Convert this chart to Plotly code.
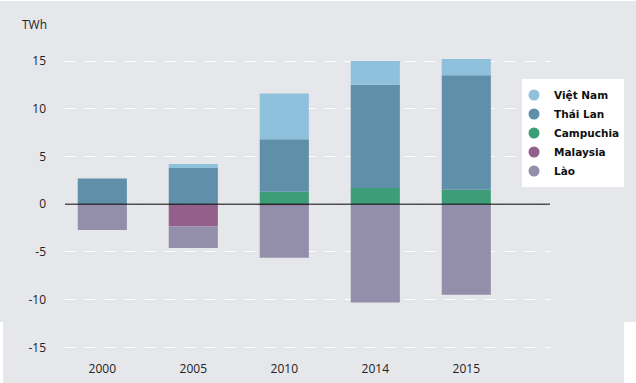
import plotly.graph_objects as go

years = ["2000", "2005", "2010", "2014", "2015"]
series_names = ["Campuchia", "Thái Lan", "Việt Nam", "Malaysia", "Lào"]
campuchia = [0.0, 0.0, 1.3, 1.7, 1.5]
thai_lan = [2.7, 3.8, 5.5, 10.8, 12.0]
viet_nam = [0.0, 0.4, 4.8, 2.5, 1.7]
malaysia = [0.0, -2.3, -0.1, 0.0, 0.0]
lao = [-2.7, -2.3, -5.5, -10.3, -9.5]
y_ticks = [-15, -10, -5, 0, 5, 10, 15]
y_tick_labels = ["-15", "-10", "-5", "0", "5", "10", "15"]

colors = {
    "Việt Nam": "#8fc1dc",
    "Thái Lan": "#5f8fa9",
    "Campuchia": "#3d9d78",
    "Malaysia": "#935f8b",
    "Lào": "#938eaa",
}
values = {
    "Campuchia": campuchia,
    "Thái Lan": thai_lan,
    "Việt Nam": viet_nam,
    "Malaysia": malaysia,
    "Lào": lao,
}
legend_order = ["Việt Nam", "Thái Lan", "Campuchia", "Malaysia", "Lào"]

BG = "#e6e7eb"
L, R, T, B = 65, 86, 40, 28
W, H = 636, 383
PW, PH = W - L - R, H - T - B


def px_x(px):
    return (px - L) / PW


def px_y(py):
    return (H - B - py) / PH


fig = go.Figure()
for name in series_names:
    fig.add_trace(go.Bar(x=years, y=values[name], name=name,
                         marker=dict(color=colors[name], line=dict(width=0)),
                         showlegend=False))
for i, name in enumerate(legend_order):
    fig.add_trace(go.Scatter(x=[None], y=[None], mode="markers", name=name,
                             marker=dict(color=colors[name], size=11, symbol="circle"),
                             legendgroup=f"g{i}", showlegend=True))

fig.add_shape(type="line", xref="paper", yref="y", x0=0, x1=1, y0=0, y1=0,
              line=dict(color="black", width=1), layer="above")

# white frame pieces
for x0, x1, y0, y1 in [(624, 640, 322, 390), (-5, 3, 322, 390), (-5, 640, -5, 1)]:
    fig.add_shape(type="rect", xref="paper", yref="paper",
                  x0=px_x(x0), x1=px_x(x1), y0=px_y(y1), y1=px_y(y0),
                  fillcolor="white", line=dict(width=0), layer="below")

# legend box
fig.add_shape(type="rect", xref="paper", yref="paper",
              x0=px_x(522), x1=px_x(624), y0=px_y(187), y1=px_y(79),
              fillcolor="white", line=dict(width=0), layer="above")

fig.add_annotation(text="TWh", xref="paper", yref="paper",
                   x=px_x(34), y=px_y(25), xanchor="center", yanchor="middle",
                   showarrow=False, font=dict(family="Open Sans", size=12, color="#222"))

fig.update_layout(
    width=W, height=H, autosize=False,
    margin=dict(l=L, r=R, t=T, b=B, autoexpand=False),
    paper_bgcolor=BG, plot_bgcolor=BG,
    barmode="relative", bargap=0.46,
    font=dict(family="Open Sans", size=12, color="#222"),
    legend=dict(x=px_x(514), y=px_y(80.5), xanchor="left", yanchor="top",
                bgcolor="rgba(0,0,0,0)", borderwidth=0, tracegroupgap=0,
                font=dict(family="DejaVu Sans", size=10.5, color="#111", weight="bold"),
                itemwidth=30),
    xaxis=dict(type="category", range=[-0.41, 4.92], showgrid=False, zeroline=False,
               showline=False, ticks="", ticklabelstandoff=5, automargin=False),
    yaxis=dict(range=[-15.8, 17.2], tickvals=y_ticks, ticktext=y_tick_labels,
               showgrid=True, gridcolor="white", automargin=False,
               gridwidth=1, griddash="10px,10px", zeroline=False, showline=False,
               ticks="", ticklabelstandoff=18),
)

post = """
document.documentElement.style.margin='0';
document.body.style.margin='0';
document.body.style.overflow='hidden';
var d = document.querySelector('.plotly-graph-div');
d.style.position='fixed'; d.style.top='0px'; d.style.left='0px';
"""
fig.write_html("out.html", config={"displayModeBar": False, "responsive": False},
               post_script=post)
